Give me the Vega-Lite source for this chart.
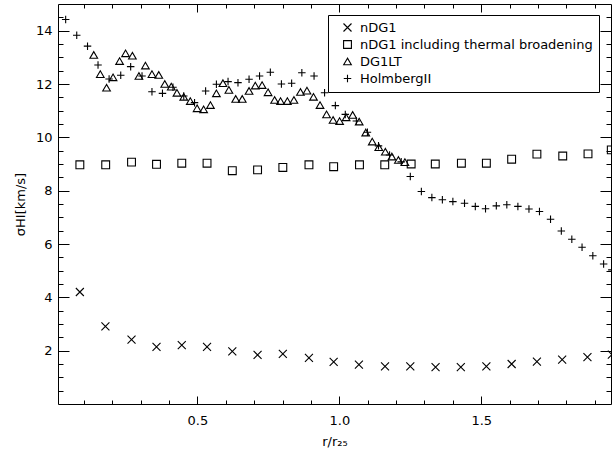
{
  "$schema": "https://vega.github.io/schema/vega-lite/v6.json",
  "width": 553,
  "height": 400,
  "autosize": {"type": "none"},
  "padding": {"left": 58, "top": 4, "right": 1, "bottom": 49},
  "background": "white",
  "config": {
    "view": {"stroke": null},
    "font": "DejaVu Sans",
    "axis": {
      "domainColor": "black",
      "domainWidth": 1,
      "tickColor": "black",
      "tickWidth": 1,
      "labelColor": "black",
      "labelFont": "DejaVu Sans",
      "labelFontSize": 13,
      "titleFont": "DejaVu Sans",
      "titleFontSize": 13,
      "titleFontWeight": "normal",
      "titleColor": "black",
      "grid": false
    },
    "legend": {
      "orient": "none",
      "legendX": 270,
      "legendY": 11,
      "padding": 6,
      "strokeColor": "black",
      "fillColor": "white",
      "labelFont": "DejaVu Sans",
      "labelFontSize": 13,
      "labelColor": "black",
      "labelLimit": 0,
      "labelOffset": 6,
      "rowPadding": 3,
      "symbolStrokeColor": "black",
      "symbolStrokeWidth": 1.1,
      "symbolFillColor": "transparent",
      "symbolOffset": 7
    }
  },
  "data": {
    "values": [
      {"s": "nDG1", "r": 0.086, "v": 4.20},
      {"s": "nDG1", "r": 0.176, "v": 2.91},
      {"s": "nDG1", "r": 0.268, "v": 2.41},
      {"s": "nDG1", "r": 0.356, "v": 2.14},
      {"s": "nDG1", "r": 0.445, "v": 2.21},
      {"s": "nDG1", "r": 0.534, "v": 2.14},
      {"s": "nDG1", "r": 0.623, "v": 1.97},
      {"s": "nDG1", "r": 0.712, "v": 1.84},
      {"s": "nDG1", "r": 0.801, "v": 1.88},
      {"s": "nDG1", "r": 0.893, "v": 1.73},
      {"s": "nDG1", "r": 0.980, "v": 1.58},
      {"s": "nDG1", "r": 1.069, "v": 1.48},
      {"s": "nDG1", "r": 1.161, "v": 1.41},
      {"s": "nDG1", "r": 1.250, "v": 1.41},
      {"s": "nDG1", "r": 1.339, "v": 1.38},
      {"s": "nDG1", "r": 1.428, "v": 1.38},
      {"s": "nDG1", "r": 1.518, "v": 1.41},
      {"s": "nDG1", "r": 1.607, "v": 1.50},
      {"s": "nDG1", "r": 1.696, "v": 1.59},
      {"s": "nDG1", "r": 1.785, "v": 1.66},
      {"s": "nDG1", "r": 1.874, "v": 1.76},
      {"s": "nDG1", "r": 1.960, "v": 1.85},
      {"s": "nDG1 including thermal broadening", "r": 0.086, "v": 8.97},
      {"s": "nDG1 including thermal broadening", "r": 0.177, "v": 8.97},
      {"s": "nDG1 including thermal broadening", "r": 0.268, "v": 9.07},
      {"s": "nDG1 including thermal broadening", "r": 0.356, "v": 8.99},
      {"s": "nDG1 including thermal broadening", "r": 0.445, "v": 9.03},
      {"s": "nDG1 including thermal broadening", "r": 0.534, "v": 9.03},
      {"s": "nDG1 including thermal broadening", "r": 0.623, "v": 8.75},
      {"s": "nDG1 including thermal broadening", "r": 0.712, "v": 8.78},
      {"s": "nDG1 including thermal broadening", "r": 0.801, "v": 8.87},
      {"s": "nDG1 including thermal broadening", "r": 0.893, "v": 8.97},
      {"s": "nDG1 including thermal broadening", "r": 0.980, "v": 8.90},
      {"s": "nDG1 including thermal broadening", "r": 1.071, "v": 8.97},
      {"s": "nDG1 including thermal broadening", "r": 1.160, "v": 8.97},
      {"s": "nDG1 including thermal broadening", "r": 1.253, "v": 9.00},
      {"s": "nDG1 including thermal broadening", "r": 1.338, "v": 9.00},
      {"s": "nDG1 including thermal broadening", "r": 1.430, "v": 9.03},
      {"s": "nDG1 including thermal broadening", "r": 1.518, "v": 9.03},
      {"s": "nDG1 including thermal broadening", "r": 1.607, "v": 9.18},
      {"s": "nDG1 including thermal broadening", "r": 1.696, "v": 9.37},
      {"s": "nDG1 including thermal broadening", "r": 1.787, "v": 9.30},
      {"s": "nDG1 including thermal broadening", "r": 1.876, "v": 9.38},
      {"s": "nDG1 including thermal broadening", "r": 1.958, "v": 9.53},
      {"s": "DG1LT", "r": 0.135, "v": 13.09},
      {"s": "DG1LT", "r": 0.158, "v": 12.37},
      {"s": "DG1LT", "r": 0.180, "v": 11.86},
      {"s": "DG1LT", "r": 0.203, "v": 12.25},
      {"s": "DG1LT", "r": 0.226, "v": 12.86},
      {"s": "DG1LT", "r": 0.247, "v": 13.15},
      {"s": "DG1LT", "r": 0.271, "v": 13.06},
      {"s": "DG1LT", "r": 0.294, "v": 12.30},
      {"s": "DG1LT", "r": 0.317, "v": 12.69},
      {"s": "DG1LT", "r": 0.340, "v": 12.37},
      {"s": "DG1LT", "r": 0.364, "v": 12.34},
      {"s": "DG1LT", "r": 0.385, "v": 12.00},
      {"s": "DG1LT", "r": 0.408, "v": 11.90},
      {"s": "DG1LT", "r": 0.428, "v": 11.67},
      {"s": "DG1LT", "r": 0.452, "v": 11.52},
      {"s": "DG1LT", "r": 0.475, "v": 11.36},
      {"s": "DG1LT", "r": 0.499, "v": 11.09},
      {"s": "DG1LT", "r": 0.522, "v": 11.05},
      {"s": "DG1LT", "r": 0.546, "v": 11.21},
      {"s": "DG1LT", "r": 0.567, "v": 11.65},
      {"s": "DG1LT", "r": 0.590, "v": 12.03},
      {"s": "DG1LT", "r": 0.611, "v": 11.78},
      {"s": "DG1LT", "r": 0.635, "v": 11.44},
      {"s": "DG1LT", "r": 0.658, "v": 11.44},
      {"s": "DG1LT", "r": 0.682, "v": 11.74},
      {"s": "DG1LT", "r": 0.704, "v": 11.94},
      {"s": "DG1LT", "r": 0.728, "v": 11.96},
      {"s": "DG1LT", "r": 0.749, "v": 11.69},
      {"s": "DG1LT", "r": 0.772, "v": 11.40},
      {"s": "DG1LT", "r": 0.793, "v": 11.36},
      {"s": "DG1LT", "r": 0.817, "v": 11.36},
      {"s": "DG1LT", "r": 0.840, "v": 11.40},
      {"s": "DG1LT", "r": 0.863, "v": 11.70},
      {"s": "DG1LT", "r": 0.886, "v": 11.75},
      {"s": "DG1LT", "r": 0.909, "v": 11.52},
      {"s": "DG1LT", "r": 0.932, "v": 11.21},
      {"s": "DG1LT", "r": 0.955, "v": 10.86},
      {"s": "DG1LT", "r": 0.978, "v": 10.65},
      {"s": "DG1LT", "r": 1.001, "v": 10.61},
      {"s": "DG1LT", "r": 1.024, "v": 10.75},
      {"s": "DG1LT", "r": 1.047, "v": 10.84},
      {"s": "DG1LT", "r": 1.070, "v": 10.59},
      {"s": "DG1LT", "r": 1.093, "v": 10.18},
      {"s": "DG1LT", "r": 1.116, "v": 9.84},
      {"s": "DG1LT", "r": 1.139, "v": 9.63},
      {"s": "DG1LT", "r": 1.162, "v": 9.46},
      {"s": "DG1LT", "r": 1.185, "v": 9.28},
      {"s": "DG1LT", "r": 1.208, "v": 9.15},
      {"s": "DG1LT", "r": 1.231, "v": 9.07},
      {"s": "HolmbergII", "r": 0.036, "v": 14.42},
      {"s": "HolmbergII", "r": 0.075, "v": 13.83},
      {"s": "HolmbergII", "r": 0.113, "v": 13.42},
      {"s": "HolmbergII", "r": 0.150, "v": 12.71},
      {"s": "HolmbergII", "r": 0.189, "v": 12.19},
      {"s": "HolmbergII", "r": 0.230, "v": 12.33},
      {"s": "HolmbergII", "r": 0.265, "v": 12.65},
      {"s": "HolmbergII", "r": 0.305, "v": 12.30},
      {"s": "HolmbergII", "r": 0.340, "v": 11.71},
      {"s": "HolmbergII", "r": 0.377, "v": 11.65},
      {"s": "HolmbergII", "r": 0.414, "v": 11.88},
      {"s": "HolmbergII", "r": 0.452, "v": 11.55},
      {"s": "HolmbergII", "r": 0.490, "v": 11.30},
      {"s": "HolmbergII", "r": 0.529, "v": 11.74},
      {"s": "HolmbergII", "r": 0.567, "v": 11.99},
      {"s": "HolmbergII", "r": 0.608, "v": 12.09},
      {"s": "HolmbergII", "r": 0.643, "v": 12.05},
      {"s": "HolmbergII", "r": 0.682, "v": 12.18},
      {"s": "HolmbergII", "r": 0.719, "v": 12.30},
      {"s": "HolmbergII", "r": 0.757, "v": 12.44},
      {"s": "HolmbergII", "r": 0.796, "v": 12.00},
      {"s": "HolmbergII", "r": 0.832, "v": 12.03},
      {"s": "HolmbergII", "r": 0.868, "v": 12.42},
      {"s": "HolmbergII", "r": 0.911, "v": 12.30},
      {"s": "HolmbergII", "r": 0.948, "v": 11.67},
      {"s": "HolmbergII", "r": 0.986, "v": 11.19},
      {"s": "HolmbergII", "r": 1.021, "v": 10.86},
      {"s": "HolmbergII", "r": 1.060, "v": 10.61},
      {"s": "HolmbergII", "r": 1.099, "v": 10.19},
      {"s": "HolmbergII", "r": 1.138, "v": 9.68},
      {"s": "HolmbergII", "r": 1.177, "v": 9.34},
      {"s": "HolmbergII", "r": 1.218, "v": 9.08},
      {"s": "HolmbergII", "r": 1.250, "v": 8.53},
      {"s": "HolmbergII", "r": 1.289, "v": 7.97},
      {"s": "HolmbergII", "r": 1.326, "v": 7.74},
      {"s": "HolmbergII", "r": 1.363, "v": 7.66},
      {"s": "HolmbergII", "r": 1.400, "v": 7.59},
      {"s": "HolmbergII", "r": 1.441, "v": 7.53},
      {"s": "HolmbergII", "r": 1.479, "v": 7.41},
      {"s": "HolmbergII", "r": 1.515, "v": 7.32},
      {"s": "HolmbergII", "r": 1.553, "v": 7.43},
      {"s": "HolmbergII", "r": 1.590, "v": 7.47},
      {"s": "HolmbergII", "r": 1.629, "v": 7.41},
      {"s": "HolmbergII", "r": 1.668, "v": 7.31},
      {"s": "HolmbergII", "r": 1.705, "v": 7.22},
      {"s": "HolmbergII", "r": 1.744, "v": 6.93},
      {"s": "HolmbergII", "r": 1.782, "v": 6.49},
      {"s": "HolmbergII", "r": 1.819, "v": 6.18},
      {"s": "HolmbergII", "r": 1.855, "v": 5.88},
      {"s": "HolmbergII", "r": 1.893, "v": 5.56},
      {"s": "HolmbergII", "r": 1.931, "v": 5.25},
      {"s": "HolmbergII", "r": 1.960, "v": 5.03}
    ]
  },
  "resolve": {"axis": {"x": "independent", "y": "independent"}},
  "layer": [
    {
      "mark": {"type": "point", "filled": false, "stroke": "black", "strokeWidth": 1.1, "opacity": 1, "clip": false},
      "encoding": {
        "x": {
          "field": "r", "type": "quantitative",
          "scale": {"domain": [0.009, 1.957], "nice": false, "zero": false},
          "axis": {
            "orient": "bottom",
            "title": "r/r₂₅",
            "values": [0.1, 0.2, 0.3, 0.4, 0.5, 0.6, 0.7, 0.8, 0.9, 1.0, 1.1, 1.2, 1.3, 1.4, 1.5, 1.6, 1.7, 1.8, 1.9],
            "labelExpr": "abs(datum.value*2 - round(datum.value*2)) < 0.01 ? format(datum.value, '.1f') : ''",
            "tickSize": {"condition": {"test": "abs(datum.value*2 - round(datum.value*2)) < 0.01", "value": -8}, "value": -4},
            "labelPadding": 18,
            "titlePadding": 4,
            "labelFlush": false,
            "labelOverlap": false
          }
        },
        "y": {
          "field": "v", "type": "quantitative",
          "scale": {"domain": [0, 15], "nice": false, "zero": false},
          "axis": {
            "orient": "left",
            "title": "σHI[km/s]",
            "values": [0.5, 1, 1.5, 2, 2.5, 3, 3.5, 4, 4.5, 5, 5.5, 6, 6.5, 7, 7.5, 8, 8.5, 9, 9.5, 10, 10.5, 11, 11.5, 12, 12.5, 13, 13.5, 14, 14.5],
            "labelExpr": "abs(datum.value % 2) < 0.01 ? format(datum.value, 'd') : ''",
            "tickSize": {"condition": {"test": "abs(datum.value % 2) < 0.01", "value": -11}, "value": -5},
            "labelPadding": 17,
            "titlePadding": 8,
            "labelFlush": false,
            "labelOverlap": false
          }
        },
        "shape": {
          "field": "s", "type": "nominal", "title": null,
          "scale": {
            "domain": ["nDG1", "nDG1 including thermal broadening", "DG1LT", "HolmbergII"],
            "range": ["M-1,-1L1,1M-1,1L1,-1", "square", "triangle-up", "M-1,0L1,0M0,-1L0,1"]
          }
        },
        "size": {
          "field": "s", "type": "nominal", "title": null,
          "scale": {
            "domain": ["nDG1", "nDG1 including thermal broadening", "DG1LT", "HolmbergII"],
            "range": [64, 56, 72, 70]
          }
        }
      }
    },
    {
      "mark": {"type": "point", "opacity": 0},
      "encoding": {
        "x": {
          "field": "r", "type": "quantitative",
          "axis": {
            "orient": "top",
            "title": null,
            "labels": false,
            "values": [0.1, 0.2, 0.3, 0.4, 0.5, 0.6, 0.7, 0.8, 0.9, 1.0, 1.1, 1.2, 1.3, 1.4, 1.5, 1.6, 1.7, 1.8, 1.9],
            "tickSize": {"condition": {"test": "abs(datum.value*2 - round(datum.value*2)) < 0.01", "value": -8}, "value": -4}
          }
        },
        "y": {
          "field": "v", "type": "quantitative",
          "axis": {
            "orient": "right",
            "title": null,
            "labels": false,
            "values": [0.5, 1, 1.5, 2, 2.5, 3, 3.5, 4, 4.5, 5, 5.5, 6, 6.5, 7, 7.5, 8, 8.5, 9, 9.5, 10, 10.5, 11, 11.5, 12, 12.5, 13, 13.5, 14, 14.5],
            "tickSize": {"condition": {"test": "abs(datum.value % 2) < 0.01", "value": -11}, "value": -5}
          }
        }
      }
    }
  ]
}
